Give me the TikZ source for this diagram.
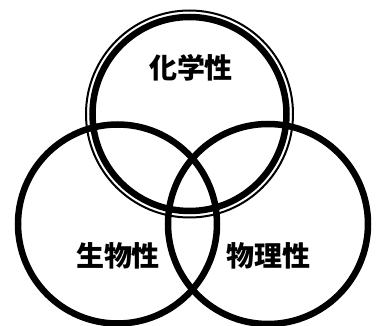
\documentclass[tikz,border=0pt]{standalone}
\usepackage{fontspec}
\newfontfamily\cjk{Noto Sans CJK JP}
\begin{document}
\begin{tikzpicture}[x=1pt,y=-1pt,
  ring/.style={draw=black,line width=6.5pt},
  thinring/.style={draw=black,line width=2pt},
  lbl/.style={font=\cjk\bfseries\fontsize{28}{30}\selectfont,inner sep=0pt}]
\useasboundingbox (0,0) rectangle (381,326);
\coordinate (ctop) at (189.5,114);
\coordinate (cleft) at (117.5,224);
\coordinate (cright) at (268,224);
\draw[thinring] (ctop) circle (103.5pt);
\draw[ring] (ctop) circle (97pt);
\draw[ring] (cleft) circle (99.5pt);
\draw[ring] (cright) circle (100pt);
\node[lbl] (chem) at (191,68) {化学性};
\node[lbl] (bio) at (118,256) {生物性};
\node[lbl] (phys) at (268,256) {物理性};
\end{tikzpicture}
\end{document}
